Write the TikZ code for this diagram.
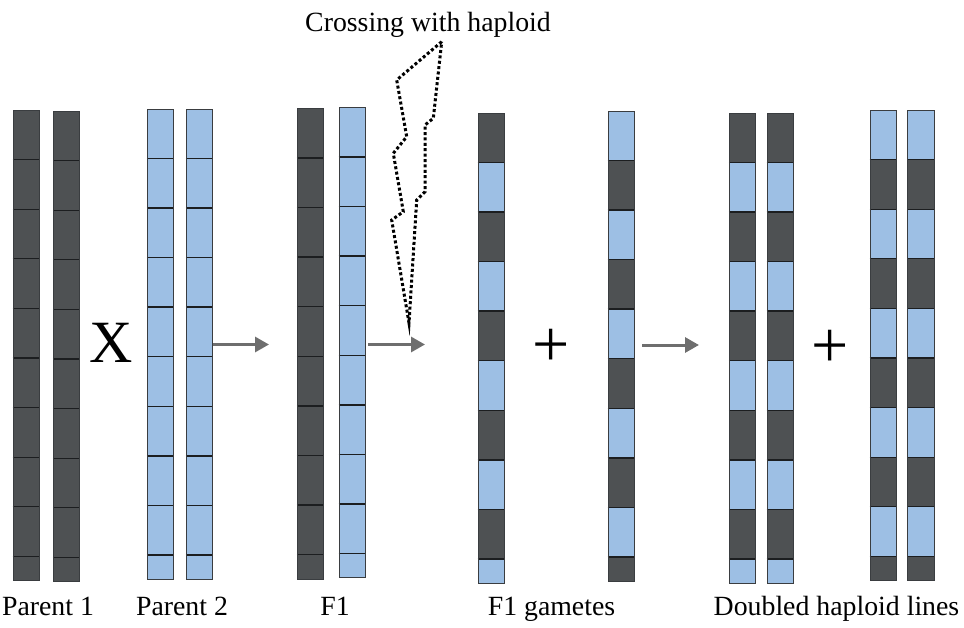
\documentclass[tikz,border=0pt]{standalone}
\usepackage{fontspec}
\setmainfont{Liberation Serif}
\usetikzlibrary{arrows.meta}
\definecolor{chrDark}{HTML}{4E5153}
\definecolor{chrBlue}{HTML}{9DBFE4}
\definecolor{chrEdge}{HTML}{3A3D40}
\definecolor{divLine}{HTML}{1C1E20}
\definecolor{arrGray}{HTML}{6E6E6E}
\tikzset{
  divider/.style={draw=divLine, line width=1.3pt},
  chrbox/.style={draw=chrEdge, line width=0.9pt, inner sep=0pt, minimum width=26.5pt, anchor=north west},
  stagearrow/.style={draw=arrGray, line width=3pt, -{Triangle[length=14pt,width=15pt]}},
  label/.style={font=\fontsize{27.8}{30}\selectfont, anchor=base, inner sep=0pt},
  bolt/.style={draw=black, line width=3pt, dash pattern=on 3pt off 2.4pt, line join=miter},
}
% #1 name, #2 left x, #3 top y, #4 bottom y, #5 first colour, #6 second colour
\newcommand\chromo[6]{%
  \foreach \i in {0,...,9}{%
    \pgfmathsetmacro\ya{#3+\i*49.6}%
    \pgfmathsetmacro\yb{min(#3+(\i+1)*49.6,#4)}%
    \ifodd\i\relax \def\cc{#6}\else \def\cc{#5}\fi
    \fill[\cc] (#2,\ya) rectangle (#2+26.5,\yb);
  }%
  \foreach \i in {1,...,9}{%
    \pgfmathsetmacro\ya{#3+\i*49.6}%
    \draw[divider] (#2,\ya) -- (#2+26.5,\ya);
  }%
  \pgfmathsetmacro\hh{#4-#3}%
  \node[chrbox, minimum height=\hh pt] (#1) at (#2,#3) {};
}
\begin{document}
\begin{tikzpicture}[x=1pt,y=-1pt]
\useasboundingbox (0,0) rectangle (964,627);
% Parent 1
\chromo{pa}{12.5}{110}{580}{chrDark}{chrDark}
\chromo{pb}{52.8}{111}{581}{chrDark}{chrDark}
% Parent 2
\chromo{qa}{146.8}{108.7}{579}{chrBlue}{chrBlue}
\chromo{qb}{185.8}{108.7}{579}{chrBlue}{chrBlue}
% F1
\chromo{fa}{296.8}{108.3}{579}{chrDark}{chrDark}
\chromo{fb}{338.5}{107.3}{577}{chrBlue}{chrBlue}
% F1 gametes
\chromo{ga}{477.5}{112.7}{582.7}{chrDark}{chrBlue}
\chromo{gb}{607.5}{110.7}{581}{chrBlue}{chrDark}
% Doubled haploid lines
\chromo{da}{728.8}{112.7}{582.7}{chrDark}{chrBlue}
\chromo{db}{766.5}{112.7}{582.7}{chrDark}{chrBlue}
\chromo{dc}{869.5}{110}{580}{chrBlue}{chrDark}
\chromo{dd}{907}{110}{580}{chrBlue}{chrDark}

% cross and plus signs
\node[font=\fontsize{60}{60}\selectfont, inner sep=0pt] (cross) at (111.5,343) {X};
\node[font=\fontsize{66}{66}\selectfont, inner sep=0pt] (plusa) at (551,348) {+};
\node[font=\fontsize{66}{66}\selectfont, inner sep=0pt] (plusb) at (830,349) {+};

% arrows
\coordinate (a1s) at (213,344.5); \coordinate (a1e) at (269,344.5);
\coordinate (a2s) at (368,344.5); \coordinate (a2e) at (425,344.5);
\coordinate (a3s) at (642,345); \coordinate (a3e) at (699,345);
\draw[stagearrow] (a1s) -- (a1e);
\draw[stagearrow] (a2s) -- (a2e);
\draw[stagearrow] (a3s) -- (a3e);

% lightning bolt
\coordinate (bt) at (441.7,41.7);
\coordinate (btip) at (409,323);
\draw[bolt] (bt) -- (396.7,80) -- (406.7,136.7) -- (393.3,153.3) -- (403.3,211.7)
  -- (391.7,220) -- (btip) -- (416.7,200) -- (425,191.7) -- (425,125)
  -- (433.3,118.3) -- cycle;

% labels
\node[label] (ttop) at (428,31) {Crossing with haploid};
\node[label] (lp1) at (48,615) {Parent 1};
\node[label] (lp2) at (182,615) {Parent 2};
\node[label] (lf1) at (335,615) {F1};
\node[label] (lgam) at (551.5,615) {F1 gametes};
\node[label] (ldh) at (836.5,615) {Doubled haploid lines};
\end{tikzpicture}
\end{document}
